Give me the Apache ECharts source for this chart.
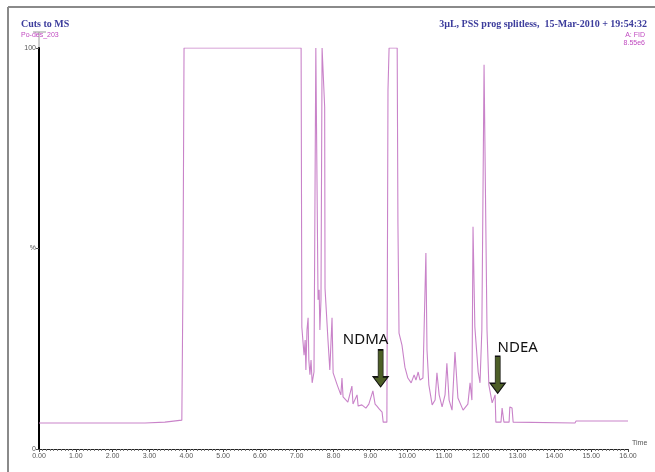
<!DOCTYPE html>
<html>
<head>
<meta charset="utf-8">
<script src="https://cdn.jsdelivr.net/npm/echarts@6/dist/echarts.min.js"></script>
<style>
  html, body { margin: 0; padding: 0; background: #fff; }
  #chart { width: 655px; height: 472px; }
</style>
</head>
<body>
<div id="chart"></div>
<script>
// retention time (min) and response (%)
var times = [
  0.00, 2.88, 3.42, 3.88, 3.91, 3.94, 7.12, 7.14, 7.20, 7.23,
  7.25, 7.28, 7.31, 7.33, 7.36, 7.39, 7.42, 7.47, 7.52, 7.55,
  7.58, 7.61, 7.63, 7.66, 7.69, 7.74, 7.76, 7.77, 7.85, 7.90,
  7.96, 7.99, 8.10, 8.20, 8.23, 8.26, 8.39, 8.50, 8.53, 8.64,
  8.67, 8.77, 8.88, 8.96, 9.07, 9.13, 9.18, 9.24, 9.32, 9.35,
  9.45, 9.48, 9.51, 9.73, 9.75, 9.78, 9.86, 9.94, 10.02, 10.11,
  10.19, 10.24, 10.30, 10.35, 10.43, 10.51, 10.54, 10.59, 10.68, 10.76,
  10.81, 10.87, 10.95, 11.03, 11.08, 11.14, 11.22, 11.30, 11.38, 11.52,
  11.65, 11.71, 11.76, 11.79, 11.84, 11.93, 11.98, 12.03, 12.09, 12.14,
  12.17, 12.22, 12.31, 12.39, 12.41, 12.55, 12.58, 12.63, 12.77, 12.79,
  12.85, 12.88, 14.56, 14.59, 16.00
];
var response = [
  6.5, 6.5, 6.7, 7.2, 40.9, 100, 100, 30.4, 23.4, 27.2,
  19.7, 29.7, 32.7, 22.2, 18.5, 22.2, 16.5, 19.2, 100, 100,
  37.2, 39.7, 29.7, 37.2, 100, 100, 85.3, 40.0, 27.2, 19.7,
  32.7, 19.0, 16.0, 13.5, 17.7, 13.0, 11.7, 15.7, 11.2, 13.5,
  10.7, 11.0, 10.2, 11.2, 14.5, 11.2, 10.7, 10.0, 9.2, 6.7,
  6.7, 89.5, 100, 100, 56.4, 28.9, 25.9, 20.4, 17.7, 16.5,
  18.5, 17.2, 19.2, 17.2, 17.7, 48.9, 24.7, 16.0, 11.0, 12.2,
  19.0, 13.5, 10.5, 13.5, 21.4, 12.2, 9.7, 24.2, 12.7, 9.7,
  11.2, 16.5, 12.2, 55.4, 30.4, 19.2, 16.5, 29.7, 95.8, 53.9,
  29.7, 16.0, 11.5, 13.5, 6.7, 6.7, 10.2, 6.7, 6.7, 10.5,
  10.2, 6.7, 6.5, 7.0, 7.0
];

// annotated compounds: name, time, arrow centre (%)
var peakNames = ['NDMA', 'NDEA'];
var peakTimes = [9.28, 12.46];
var arrowLevel = [20.1, 18.5];
var labelShift = [[-15, 0], [20, 2]];

var dom = document.getElementById('chart');
var chart = echarts.init(dom);

var lineData = times.map(function (t, i) { return [t, response[i]]; });

var arrowPath = 'path://M5,0L10,0L10,27L15,27L7.5,37L0,27L5,27Z';

var marks = peakNames.map(function (n, i) {
  return {
    name: n,
    coord: [peakTimes[i], arrowLevel[i]],
    symbol: arrowPath,
    symbolSize: [15, 37],
    itemStyle: { color: '#4d5f27', borderColor: '#111', borderWidth: 1 },
    label: {
      show: true,
      position: 'top',
      formatter: n,
      offset: labelShift[i],
      color: '#111',
      fontFamily: 'Noto Sans',
      fontSize: 15,
      distance: 2
    }
  };
});

var option = {
  animation: false,
  backgroundColor: '#fff',
  grid: { left: 39, right: 27, top: 48, bottom: 23 },
  xAxis: {
    type: 'value',
    min: 0,
    max: 16,
    interval: 1,
    name: 'Time',
    nameLocation: 'end',
    nameGap: 4,
    nameTextStyle: { fontSize: 7, color: '#555', fontFamily: 'Liberation Sans', verticalAlign: 'bottom', padding: [0, 0, 2, 0] },
    axisLine: { lineStyle: { color: '#222', width: 1 } },
    axisTick: { show: true, length: 3, lineStyle: { color: '#444' } },
    minorTick: { show: true, splitNumber: 10, length: 2, lineStyle: { color: '#777' } },
    splitLine: { show: false },
    axisLabel: {
      fontSize: 7,
      color: '#555',
      fontFamily: 'Liberation Sans',
      margin: 4,
      formatter: function (v) { return v.toFixed(2); }
    }
  },
  yAxis: {
    type: 'value',
    min: 0,
    max: 100,
    interval: 50,
    axisLine: { show: true, lineStyle: { color: '#000', width: 2 } },
    axisTick: { show: true, length: 3, lineStyle: { color: '#555' } },
    splitLine: { show: false },
    axisLabel: {
      fontSize: 7,
      color: '#555',
      fontFamily: 'Liberation Sans',
      margin: 3,
      formatter: function (v) { return v === 50 ? '%' : String(v); }
    }
  },
  series: [{
    type: 'line',
    data: lineData,
    symbol: 'none',
    lineStyle: { color: '#c983c9', width: 1.1 },
    markPoint: { data: marks }
  }],
  graphic: [
    { type: 'line', shape: { x1: 8, y1: 7, x2: 655, y2: 7 }, style: { stroke: '#8a8a8a', lineWidth: 2 } },
    { type: 'line', shape: { x1: 8, y1: 7, x2: 8, y2: 472 }, style: { stroke: '#8a8a8a', lineWidth: 2 } },
    { type: 'line', shape: { x1: 39, y1: 32, x2: 39, y2: 48 }, style: { stroke: '#999', lineWidth: 1 } },
    { type: 'line', shape: { x1: 33, y1: 32, x2: 46, y2: 32 }, style: { stroke: '#999', lineWidth: 1 } },
    { type: 'text', left: 21, top: 19, style: { text: 'Cuts to MS', font: 'bold 10px "Liberation Serif"', fill: '#3c3c9c' } },
    { type: 'text', left: 21, top: 32, style: { text: 'Po-des_203', font: '7px "Liberation Sans"', fill: '#c04ac0' } },
    { type: 'text', right: 8, top: 19, style: { text: '3\u00b5L, PSS prog splitless,  15-Mar-2010 + 19:54:32', font: 'bold 10px "Liberation Serif"', fill: '#3c3c9c' } },
    { type: 'text', right: 10, top: 32, style: { text: 'A: FID', font: '7px "Liberation Sans"', fill: '#c04ac0' } },
    { type: 'text', right: 10, top: 40, style: { text: '8.55e6', font: '7px "Liberation Sans"', fill: '#c04ac0' } }
  ]
};

chart.setOption(option);
</script>
</body>
</html>
